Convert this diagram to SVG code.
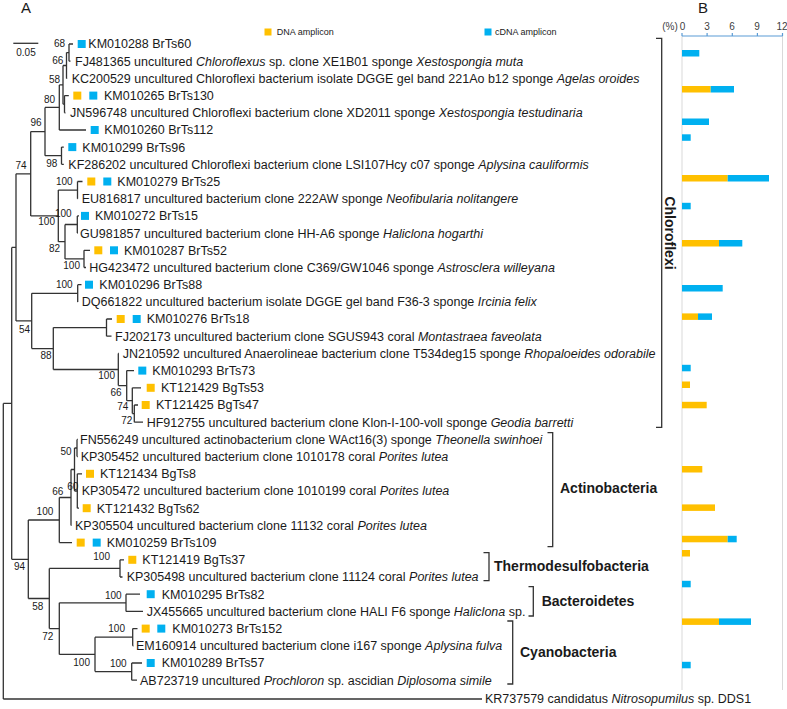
<svg xmlns="http://www.w3.org/2000/svg" width="787" height="709" viewBox="0 0 787 709">
<style>
text{font-family:"Liberation Sans",Arial,sans-serif;fill:#1a1a1a}
.t{font-size:12.5px}
.b{font-size:10px;text-anchor:end}
.i{font-style:italic}
.cl{font-size:14px;font-weight:bold}
.tr{stroke:#333;stroke-width:1.3;fill:none}
.o{fill:#FFC000}
.c{fill:#00B0F0}
.ax{font-size:10px;fill:#404040;text-anchor:middle}
</style>
<rect width="787" height="709" fill="#fff"/>
<text x="21" y="13" style="font-size:15px">A</text>
<text x="698" y="13" style="font-size:15px">B</text>
<g id="scalebar"><path class="tr" d="M13.3 43.3H38.3"/><text x="26" y="55.5" style="font-size:10px;text-anchor:middle">0.05</text></g>
<g id="legend">
<rect class="o" x="264.5" y="28.5" width="7" height="7"/><text x="276.7" y="35.2" style="font-size:9px">DNA amplicon</text>
<rect class="c" x="484.5" y="28.5" width="7" height="7"/><text x="495" y="35.2" style="font-size:9px">cDNA amplicon</text>
</g>
<g id="connectors" class="tr">
<path d="M69 44V61.2M69 44H73M69 61.2H70.5"/>
<path d="M66.5 52.6V78.4M66.5 52.6H69M66.5 78.4H67.2"/>
<path d="M64.5 95.6V112.8M64.5 95.6H68.8M64.5 112.8H65.5"/>
<path d="M63 65.5V104.2M63 65.5H66.5M63 104.2H64.5"/>
<path d="M59.3 84.9V130M59.3 84.9H63M59.3 130H86"/>
<path d="M61.5 147.1V164.3M61.5 147.1H63.8M61.5 164.3H63.8"/>
<path d="M45 107.4V155.7M45 107.4H59.3M45 155.7H61.5"/>
<path d="M77.5 181.5V198.7M77.5 181.5H82.5M77.5 198.7H78"/>
<path d="M77.3 215.9V233.1M77.3 215.9H79M77.3 233.1H78"/>
<path d="M84 250.3V267.5M84 250.3H90M84 267.5H86"/>
<path d="M65 224.5V258.9M65 224.5H77.3M65 258.9H84"/>
<path d="M58.3 190.1V241.7M58.3 190.1H77.5M58.3 241.7H65"/>
<path d="M30.7 131.6V215.9M30.7 131.6H45M30.7 215.9H58.3"/>
<path d="M77.7 284.7V301.9M77.7 284.7H81.5M77.7 301.9H78"/>
<path d="M106.5 319V336.2M106.5 319H112M106.5 336.2H111.5"/>
<path d="M134.3 405V422.2M134.3 405H138M134.3 422.2H143"/>
<path d="M132.3 387.8V413.6M132.3 387.8H141M132.3 413.6H134.3"/>
<path d="M126.7 370.6V400.7M126.7 370.6H134M126.7 400.7H132.3"/>
<path d="M118.3 353.4V385.6M118.3 353.4H119M118.3 385.6H126.7"/>
<path d="M53.3 327.6V369.5M53.3 327.6H106.5M53.3 369.5H118.3"/>
<path d="M31.7 293.3V348.6M31.7 293.3H77.7M31.7 348.6H53.3"/>
<path d="M16 173.8V320.9M16 173.8H30.7M16 320.9H31.7"/>
<path d="M77 439.4V456.6M77 439.4H77.8M77 456.6H77.8"/>
<path d="M77.3 473.8V508.2M77.3 473.8H82M77.3 491H78M77.3 508.2H79"/>
<path d="M74.5 448V491M74.5 448H77M74.5 491H77.3"/>
<path d="M71 469.5V525.4M71 469.5H74.5M71 525.4H71.5"/>
<path d="M59.3 497.5V542.6M59.3 497.5H71M59.3 542.6H72"/>
<path d="M120 559.8V577M120 559.8H124M120 577H122.5"/>
<path d="M126 594.2V611.4M126 594.2H140M126 611.4H143"/>
<path d="M132.7 628.6V645.8M132.7 628.6H137.5M132.7 645.8H133.5"/>
<path d="M131.7 663V680.2M131.7 663H142M131.7 680.2H137"/>
<path d="M95 637.2V671.6M95 637.2H132.7M95 671.6H131.7"/>
<path d="M59.3 602.8V654.4M59.3 602.8H126M59.3 654.4H95"/>
<path d="M49.3 568.4V628.6M49.3 568.4H120M49.3 628.6H59.3"/>
<path d="M28.3 520V598.5M28.3 520H59.3M28.3 598.5H49.3"/>
<path d="M11.7 247.4V559.3M11.7 247.4H16M11.7 559.3H28.3"/>
<path d="M3.3 403.4V699M3.3 403.4H11.7M3.3 699H482"/>
</g>
<g id="bootstrap">
<text class="b" x="65" y="47">68</text>
<text class="b" x="63.3" y="64.3">66</text>
<text class="b" x="60" y="82.6">58</text>
<text class="b" x="55" y="102.6">80</text>
<text class="b" x="41.7" y="125.9">96</text>
<text class="b" x="57.3" y="166.9">98</text>
<text class="b" x="26.7" y="168.6">74</text>
<text class="b" x="72.7" y="185.3">100</text>
<text class="b" x="71.7" y="216.9">100</text>
<text class="b" x="55" y="225.3">100</text>
<text class="b" x="60" y="251.9">82</text>
<text class="b" x="80" y="268.6">100</text>
<text class="b" x="72.7" y="287.9">100</text>
<text class="b" x="30" y="332.9">54</text>
<text class="b" x="51.7" y="358.6">88</text>
<text class="b" x="115" y="378.6">100</text>
<text class="b" x="121.7" y="396.3">66</text>
<text class="b" x="128.3" y="410.3">74</text>
<text class="b" x="132.3" y="423.6">72</text>
<text class="b" x="71.7" y="454.6">50</text>
<text class="b" x="78.3" y="490.3">60</text>
<text class="b" x="63.3" y="495.3">66</text>
<text class="b" x="53.3" y="515.3">100</text>
<text class="b" x="110" y="560.3">100</text>
<text class="b" x="25" y="570.3">94</text>
<text class="b" x="121.7" y="598.6">100</text>
<text class="b" x="43.3" y="609.6">58</text>
<text class="b" x="125" y="631.9">100</text>
<text class="b" x="53.3" y="639.6">72</text>
<text class="b" x="90" y="665.9">100</text>
<text class="b" x="126.7" y="666.9">100</text>
</g>
<g id="n1"><rect class="c" x="77.7" y="40" width="8" height="8"/><text class="t" x="88.3" y="48.4">KM010288 BrTs60</text></g>
<g id="n2"><text class="t" x="75" y="65.6">FJ481365 uncultured <tspan class="i">Chloroflexus</tspan> sp. clone XE1B01 sponge <tspan class="i">Xestospongia muta</tspan></text></g>
<g id="n3"><text class="t" x="71.7" y="82.8">KC200529 uncultured Chloroflexi bacterium isolate DGGE gel band 221Ao b12 sponge <tspan class="i">Agelas oroides</tspan></text></g>
<g id="n4"><rect class="o" x="73.3" y="91.6" width="8" height="8"/><rect class="c" x="89.3" y="91.6" width="8" height="8"/><text class="t" x="104" y="100">KM010265 BrTs130</text></g>
<g id="n5"><text class="t" x="70" y="117.2">JN596748 uncultured Chloroflexi bacterium clone XD2011 sponge <tspan class="i">Xestospongia testudinaria</tspan></text></g>
<g id="n6"><rect class="c" x="90.7" y="126" width="8" height="8"/><text class="t" x="104.3" y="134.4">KM010260 BrTs112</text></g>
<g id="n7"><rect class="c" x="68.3" y="143.1" width="8" height="8"/><text class="t" x="82.3" y="151.5">KM010299 BrTs96</text></g>
<g id="n8"><text class="t" x="68.3" y="168.7">KF286202 uncultured Chloroflexi bacterium clone LSI107Hcy c07 sponge <tspan class="i">Aplysina cauliformis</tspan></text></g>
<g id="n9"><rect class="o" x="87.3" y="177.5" width="8" height="8"/><rect class="c" x="103.3" y="177.5" width="8" height="8"/><text class="t" x="117.3" y="185.9">KM010279 BrTs25</text></g>
<g id="n10"><text class="t" x="81.7" y="203.1">EU816817 uncultured bacterium clone 222AW sponge <tspan class="i">Neofibularia nolitangere</tspan></text></g>
<g id="n11"><rect class="c" x="81" y="211.9" width="8" height="8"/><text class="t" x="95" y="220.3">KM010272 BrTs15</text></g>
<g id="n12"><text class="t" x="80" y="237.5">GU981857 uncultured bacterium clone HH-A6 sponge <tspan class="i">Haliclona hogarthi</tspan></text></g>
<g id="n13"><rect class="o" x="94.3" y="246.3" width="8" height="8"/><rect class="c" x="110" y="246.3" width="8" height="8"/><text class="t" x="124" y="254.7">KM010287 BrTs52</text></g>
<g id="n14"><text class="t" x="89.3" y="271.9">HG423472 uncultured bacterium clone C369/GW1046 sponge <tspan class="i">Astrosclera willeyana</tspan></text></g>
<g id="n15"><rect class="c" x="85" y="280.7" width="8" height="8"/><text class="t" x="99.3" y="289.1">KM010296 BrTs88</text></g>
<g id="n16"><text class="t" x="81.7" y="306.3">DQ661822 uncultured bacterium isolate DGGE gel band F36-3 sponge <tspan class="i">Ircinia felix</tspan></text></g>
<g id="n17"><rect class="o" x="116.7" y="315" width="8" height="8"/><rect class="c" x="132.7" y="315" width="8" height="8"/><text class="t" x="146.7" y="323.4">KM010276 BrTs18</text></g>
<g id="n18"><text class="t" x="115" y="340.6">FJ202173 uncultured bacterium clone SGUS943 coral <tspan class="i">Montastraea faveolata</tspan></text></g>
<g id="n19"><text class="t" x="122.7" y="357.8">JN210592 uncultured Anaerolineae bacterium clone T534deg15 sponge <tspan class="i">Rhopaloeides odorabile</tspan></text></g>
<g id="n20"><rect class="c" x="138.3" y="366.6" width="8" height="8"/><text class="t" x="152.3" y="375">KM010293 BrTs73</text></g>
<g id="n21"><rect class="o" x="146.7" y="383.8" width="8" height="8"/><text class="t" x="161" y="392.2">KT121429 BgTs53</text></g>
<g id="n22"><rect class="o" x="141.7" y="401" width="8" height="8"/><text class="t" x="156" y="409.4">KT121425 BgTs47</text></g>
<g id="n23"><text class="t" x="146.7" y="426.6">HF912755 uncultured bacterium clone Klon-I-100-voll sponge <tspan class="i">Geodia barretti</tspan></text></g>
<g id="n24"><text class="t" x="80" y="443.8">FN556249 uncultured actinobacterium clone WAct16(3) sponge <tspan class="i">Theonella swinhoei</tspan></text></g>
<g id="n25"><text class="t" x="80.7" y="461">KP305452 uncultured bacterium clone 1010178 coral <tspan class="i">Porites lutea</tspan></text></g>
<g id="n26"><rect class="o" x="86" y="469.8" width="8" height="8"/><text class="t" x="100" y="478.2">KT121434 BgTs8</text></g>
<g id="n27"><text class="t" x="81.7" y="495.4">KP305472 uncultured bacterium clone 1010199 coral <tspan class="i">Porites lutea</tspan></text></g>
<g id="n28"><rect class="o" x="82.7" y="504.2" width="8" height="8"/><text class="t" x="96.7" y="512.6">KT121432 BgTs62</text></g>
<g id="n29"><text class="t" x="75" y="529.8">KP305504 uncultured bacterium clone 11132 coral <tspan class="i">Porites lutea</tspan></text></g>
<g id="n30"><rect class="o" x="76.7" y="538.6" width="8" height="8"/><rect class="c" x="92.7" y="538.6" width="8" height="8"/><text class="t" x="106.7" y="547">KM010259 BrTs109</text></g>
<g id="n31"><rect class="o" x="128.3" y="555.8" width="8" height="8"/><text class="t" x="142.3" y="564.2">KT121419 BgTs37</text></g>
<g id="n32"><text class="t" x="126.7" y="581.4">KP305498 uncultured bacterium clone 11124 coral <tspan class="i">Porites lutea</tspan></text></g>
<g id="n33"><rect class="c" x="146.7" y="590.2" width="8" height="8"/><text class="t" x="161.7" y="598.6">KM010295 BrTs82</text></g>
<g id="n34"><text class="t" x="146.7" y="615.8">JX455665 uncultured bacterium clone HALI F6 sponge <tspan class="i">Haliclona</tspan> sp.</text></g>
<g id="n35"><rect class="o" x="141.7" y="624.6" width="8" height="8"/><rect class="c" x="157.3" y="624.6" width="8" height="8"/><text class="t" x="172.3" y="633">KM010273 BrTs152</text></g>
<g id="n36"><text class="t" x="136" y="650.2">EM160914 uncultured bacterium clone i167 sponge <tspan class="i">Aplysina fulva</tspan></text></g>
<g id="n37"><rect class="c" x="146.7" y="659" width="8" height="8"/><text class="t" x="161.7" y="667.4">KM010289 BrTs57</text></g>
<g id="n38"><text class="t" x="140" y="684.6">AB723719 uncultured <tspan class="i">Prochloron</tspan> sp. ascidian <tspan class="i">Diplosoma simile</tspan></text></g>
<g id="n39"><text class="t" x="485" y="703.4">KR737579 candidatus <tspan class="i">Nitrosopumilus</tspan> sp. DDS1</text></g>
<g id="clades" class="tr">
<path d="M656 38.3H661.7V427.3H656"/>
<path d="M547.5 432.7H552.7V546.7H547.5"/>
<path d="M483.5 552.7H489V580.7H483.5"/>
<path d="M528.5 586.7H533.3V616H528.5"/>
<path d="M507.3 621H512.7V684H507.3"/>
</g>
<text class="cl" transform="translate(665,233) rotate(90)" text-anchor="middle">Chloroflexi</text>
<text class="cl" x="560" y="493.3">Actinobacteria</text>
<text class="cl" x="494" y="571">Thermodesulfobacteria</text>
<text class="cl" x="541.7" y="605.7">Bacteroidetes</text>
<text class="cl" x="520" y="657.3">Cyanobacteria</text>
<g id="chart">
<path d="M682 36V690M782.5 36V690" stroke="#d9d9d9" stroke-width="1"/>
<path d="M682 36H782.5M682 36V33M707.1 36V33M732.3 36V33M757.4 36V33M782.5 36V33" stroke="#5b9bd5" stroke-width="1.2" fill="none"/>
<text class="ax" x="670" y="29.5">(%)</text>
<text class="ax" x="682.5" y="29.5">0</text>
<text class="ax" x="707" y="29.5">3</text>
<text class="ax" x="732" y="29.5">6</text>
<text class="ax" x="757" y="29.5">9</text>
<text class="ax" x="782" y="29.5">12</text>
<rect class="c" x="682" y="50" width="17.3" height="6.5"/>
<rect class="o" x="682" y="86" width="28.7" height="6.5"/><rect class="c" x="710.7" y="86" width="23.3" height="6.5"/>
<rect class="c" x="682" y="118.5" width="27" height="6.5"/>
<rect class="c" x="682" y="134.3" width="8.7" height="6.5"/>
<rect class="o" x="682" y="175" width="45.7" height="6.5"/><rect class="c" x="727.7" y="175" width="41.3" height="6.5"/>
<rect class="c" x="682" y="202.8" width="8.7" height="6.5"/>
<rect class="o" x="682" y="240" width="37" height="6.5"/><rect class="c" x="719" y="240" width="23.3" height="6.5"/>
<rect class="c" x="682" y="285" width="40.7" height="6.5"/>
<rect class="o" x="682" y="313.4" width="16" height="6.5"/><rect class="c" x="698" y="313.4" width="14" height="6.5"/>
<rect class="c" x="682" y="364.8" width="8.7" height="6.5"/>
<rect class="o" x="682" y="381.5" width="8" height="6.5"/>
<rect class="o" x="682" y="401.8" width="24.7" height="6.5"/>
<rect class="o" x="682" y="466" width="20.3" height="6.5"/>
<rect class="o" x="682" y="504.4" width="33" height="6.5"/>
<rect class="o" x="682" y="535.8" width="45.7" height="6.5"/><rect class="c" x="727.7" y="535.8" width="9" height="6.5"/>
<rect class="o" x="682" y="550" width="8" height="6.5"/>
<rect class="c" x="682" y="580.8" width="8.7" height="6.5"/>
<rect class="o" x="682" y="618.4" width="37" height="6.5"/><rect class="c" x="719" y="618.4" width="32" height="6.5"/>
<rect class="c" x="682" y="661.8" width="8.7" height="6.5"/>
</g>
</svg>
